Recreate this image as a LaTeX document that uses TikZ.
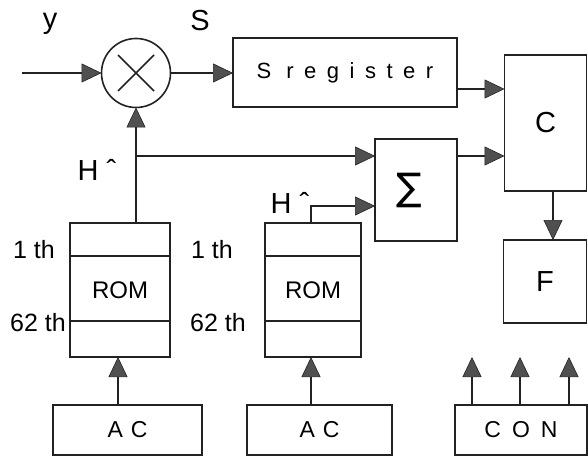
\documentclass[tikz,border=0pt]{standalone}
\usepackage{fontspec}
\setmainfont{Liberation Sans}
\newfontfamily\symfont{DejaVu Sans}
\usetikzlibrary{arrows.meta}
\definecolor{ink}{HTML}{222222}
\definecolor{tipgray}{HTML}{505050}
\begin{document}
\begin{tikzpicture}[x=1pt,y=-1pt,
  line width=1.6pt, draw=ink,
  box/.style={draw=ink, rectangle, inner sep=0pt, outer sep=0pt, font=\fontsize{23}{26}\selectfont},
  arr/.style={draw=ink, -{Triangle[length=20pt,width=19pt,fill=tipgray,line width=0.6pt]}},
  lbl/.style={inner sep=0pt, font=\fontsize{25}{29}\selectfont},
  big/.style={inner sep=0pt, font=\fontsize{29}{33}\selectfont}]
\useasboundingbox (0,0) rectangle (588,457);
% blocks
\node[draw=ink, circle, minimum size=69pt, inner sep=0pt, outer sep=0pt] (mul) at (136,73) {};
\draw (mul.center) ++(-18,-18) -- ++(36,36);
\draw (mul.center) ++(18,-18) -- ++(-36,36);
\node[box, minimum width=224pt, minimum height=69pt, font=\fontsize{22}{26}\selectfont] (sreg) at (345,72.5) {S\hspace{15pt}r\hspace{10.5pt}e\hspace{10.5pt}g\hspace{10.5pt}i\hspace{10.5pt}s\hspace{10.5pt}t\hspace{10.5pt}e\hspace{10.5pt}r};
\node[box, minimum width=82pt, minimum height=136pt, font=\fontsize{29}{33}\selectfont] (C) at (545.5,123) {C};
\node[box, minimum width=82pt, minimum height=102pt] (sigma) at (416,190) {\raisebox{4pt}{\hspace*{-14pt}\symfont\fontsize{38}{42}\selectfont ∑}};
\node[box, minimum width=100pt, minimum height=134pt, font=\fontsize{24}{28}\selectfont] (rom1) at (120,290) {ROM};
\node[box, minimum width=96pt, minimum height=134pt, font=\fontsize{24}{28}\selectfont] (rom2) at (313,290) {ROM};
\draw (rom1.west |- 0,256) -- (rom1.east |- 0,256);
\draw (rom1.west |- 0,321) -- (rom1.east |- 0,321);
\draw (rom2.west |- 0,256) -- (rom2.east |- 0,256);
\draw (rom2.west |- 0,321) -- (rom2.east |- 0,321);
\node[box, minimum width=149pt, minimum height=50pt] (ac1) at (127.5,430) {A\hspace{8pt}C};
\node[box, minimum width=145pt, minimum height=50pt] (ac2) at (319.5,430) {A\hspace{8pt}C};
\node[box, minimum width=83pt, minimum height=83pt, font=\fontsize{29}{33}\selectfont] (F) at (545,281.5) {F};
\node[box, minimum width=132pt, minimum height=50pt] (con) at (521,430) {C\hspace{11pt}O\hspace{11pt}N};
% labels
\node[big] (ly) at (50,24) {y};
\node[big] (ls) at (200,21) {S};
\node[big] (lh1) at (97,170) {H ˆ};
\node[big] (lh2) at (290,203) {H ˆ};
\node[lbl] (t11) at (34,250) {1 th};
\node[lbl] (t12) at (38,323) {62 th};
\node[lbl] (t21) at (212,250) {1 th};
\node[lbl] (t22) at (218,323) {62 th};
% coordinates
\coordinate (in) at (22,73);
\coordinate (r1) at (0,89);
\coordinate (h) at (0,156);
\coordinate (h2) at (0,206);
\coordinate (x2) at (311,0);
\coordinate (xa) at (118,0);
\coordinate (xf) at (553,0);
\coordinate (o1) at (472,357);
\coordinate (o2) at (520,357);
\coordinate (o3) at (569,357);
% connectors
\draw[arr] (in) -- (mul.west);
\draw[arr] (mul.east) -- (sreg.west |- mul.east);
\draw[arr] (sreg.east |- r1) -- (C.west |- r1);
\draw[arr] (sigma.east |- h) -- (C.west |- h);
\draw[arr] (rom1.north -| mul) -- (mul.south);
\draw[arr] (mul |- h) -- (sigma.west |- h);
\draw[arr] (rom2.north -| x2) -- (x2 |- h2) -- (sigma.west |- h2);
\draw[arr] (ac1.north -| xa) -- (rom1.south -| xa);
\draw[arr] (ac2.north -| x2) -- (rom2.south -| x2);
\draw[arr] (C.south -| xf) -- (F.north -| xf);
\draw[arr] (con.north -| o1) -- (o1);
\draw[arr] (con.north -| o2) -- (o2);
\draw[arr] (con.north -| o3) -- (o3);
\end{tikzpicture}
\end{document}
